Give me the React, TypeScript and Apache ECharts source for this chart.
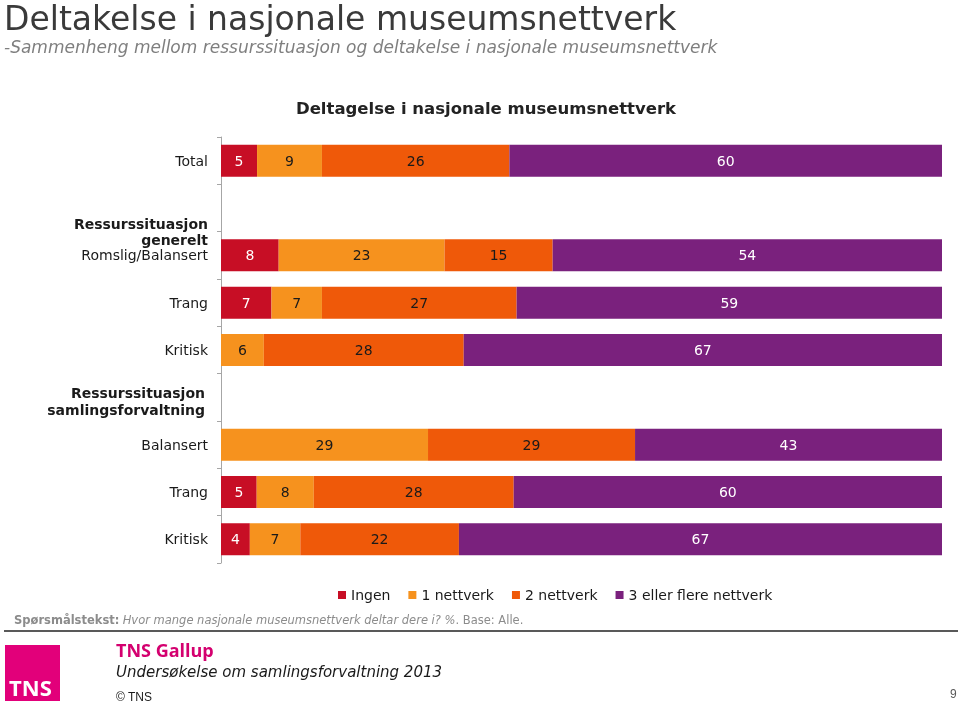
import React, { useEffect, useRef } from "react";
import * as echarts from "echarts";

const categories = [
  "Total",
  "Ressurssituasjon generelt",
  "Romslig/Balansert",
  "Trang",
  "Kritisk",
  "Ressurssituasjon samlingsforvaltning",
  "Balansert",
  "Trang ",
  "Kritisk ",
];
const seriesNames = ["Ingen", "1 nettverk", "2 nettverk", "3 eller flere nettverk"];
const ingen = [5, null, 8, 7, 0, null, 0, 5, 4];
const nett1 = [9, null, 23, 7, 6, null, 29, 8, 7];
const nett2 = [26, null, 15, 27, 28, null, 29, 28, 22];
const nett3 = [60, null, 54, 59, 67, null, 43, 60, 67];
const colors = ["#C70E25", "#F6921E", "#EF5909", "#7A217D"];
const labelColors = ["#ffffff", "#1a1a1a", "#1a1a1a", "#ffffff"];

const FONT = "DejaVu Sans, Verdana, sans-serif";

export default function App() {
  const ref = useRef<HTMLDivElement>(null);
  useEffect(() => {
    if (!ref.current) return;
    const chart = echarts.init(ref.current, undefined, { renderer: "svg" });
    const raw = [ingen, nett1, nett2, nett3];
    const sums = categories.map((_, i) =>
      raw.reduce((s, arr) => s + (arr[i] ?? 0), 0)
    );
    const series = raw.map((arr, si) => ({
      name: seriesNames[si],
      type: "bar",
      stack: "total",
      barWidth: 32,
      itemStyle: { color: colors[si] },
      label: {
        show: true,
        position: "inside",
        color: labelColors[si],
        fontFamily: FONT,
        fontSize: 14,
        formatter: (p: any) => {
          const v = arr[p.dataIndex];
          return v ? String(v) : "";
        },
      },
      data: arr.map((v, i) => (v == null ? null : (v / sums[i]) * 100)),
    }));

    chart.setOption({
      animation: false,
      textStyle: { fontFamily: FONT },
      title: [
        {
          text: "Deltagelse i nasjonale museumsnettverk",
          left: 481,
          textAlign: "center",
          top: 95,
          textStyle: { fontFamily: FONT, fontSize: 16.5, fontWeight: "bold", color: "#222" },
        },
      ],
      legend: {
        left: 333,
        top: 583,
        icon: "rect",
        itemWidth: 8,
        itemHeight: 8,
        itemGap: 18,
        textStyle: { fontFamily: FONT, fontSize: 14, color: "#1a1a1a" },
        data: seriesNames,
      },
      grid: { left: 221, right: 18, top: 137, bottom: 142, containLabel: false },
      xAxis: { type: "value", min: 0, max: 100, show: false },
      yAxis: {
        type: "category",
        inverse: true,
        data: categories,
        axisLine: { show: true, lineStyle: { color: "#a6a6a6" } },
        axisTick: { show: true, length: 4, lineStyle: { color: "#a6a6a6" } },
        axisLabel: {
          margin: 13,
          fontFamily: FONT,
          fontSize: 14,
          color: "#1a1a1a",
          formatter: (v: string) => {
            if (v === "Ressurssituasjon generelt") return "{h|Ressurssituasjon}\n{h|generelt}";
            if (v === "Ressurssituasjon samlingsforvaltning")
              return "{h2|Ressurssituasjon}\n{h2|samlingsforvaltning}";
            return v.trim();
          },
          rich: {
            h: { fontWeight: "bold", fontSize: 14, lineHeight: 16, color: "#1a1a1a", fontFamily: FONT, align: "right", padding: [48, 0, 0, 0] },
            h2: { fontWeight: "bold", fontSize: 14, lineHeight: 17, color: "#1a1a1a", fontFamily: FONT, align: "right", padding: [8, 3, 0, 0] },
          },
        },
      },
      graphic: [
        {
          type: "text",
          left: 4,
          top: 2,
          style: { text: "Deltakelse i nasjonale museumsnettverk", fontFamily: FONT, fontSize: 33, lineHeight: 33, fill: "#3a3a3a" },
        },
        {
          type: "text",
          left: 4,
          top: 38,
          style: {
            text: "-Sammenheng mellom ressurssituasjon og deltakelse i nasjonale museumsnettverk",
            fontFamily: FONT,
            fontSize: 17,
            lineHeight: 17,
            fontStyle: "italic",
            fill: "#7f7f7f",
          },
        },
        {
          type: "text",
          left: 14,
          top: 614,
          style: {
            text: "{b|Spørsmålstekst:} {i|Hvor mange nasjonale museumsnettverk deltar dere i? %}{n|. Base: Alle.}",
            rich: {
              b: { fontFamily: FONT, fontSize: 11.5, fontWeight: "bold", fill: "#8c8c8c" },
              i: { fontFamily: FONT, fontSize: 11.5, fontStyle: "italic", fill: "#8c8c8c" },
              n: { fontFamily: FONT, fontSize: 11.5, fill: "#8c8c8c" },
            },
          },
        },
        {
          type: "line",
          shape: { x1: 4, y1: 631, x2: 958, y2: 631 },
          style: { stroke: "#595959", lineWidth: 2 },
        },
        {
          type: "rect",
          shape: { x: 5, y: 645, width: 55, height: 56 },
          style: { fill: "#E2007A" },
        },
        {
          type: "text",
          left: 9,
          top: 676,
          style: { text: "TNS", fontFamily: "Open Sans, sans-serif", fontSize: 22, fontWeight: "bold", fill: "#ffffff" },
        },
        {
          type: "text",
          left: 116,
          top: 641,
          style: { text: "TNS Gallup", fontFamily: "Open Sans, sans-serif", fontSize: 18, fontWeight: "bold", fill: "#D4006F" },
        },
        {
          type: "text",
          left: 116,
          top: 664,
          style: {
            text: "Undersøkelse om samlingsforvaltning 2013",
            fontFamily: FONT,
            fontSize: 15,
            fontStyle: "italic",
            fill: "#1a1a1a",
          },
        },
        {
          type: "text",
          left: 116,
          top: 691,
          style: { text: "© TNS", fontFamily: "Liberation Sans, Arial, sans-serif", fontSize: 12, fill: "#1a1a1a" },
        },
        {
          type: "text",
          left: 950,
          top: 688,
          style: { text: "9", fontFamily: "Liberation Sans, Arial, sans-serif", fontSize: 12, fill: "#595959" },
        },
      ],
      series,
    });
    return () => chart.dispose();
  }, []);
  return <div ref={ref} style={{ width: 960, height: 705, position: "fixed", left: 0, top: 0 }} />;
}
